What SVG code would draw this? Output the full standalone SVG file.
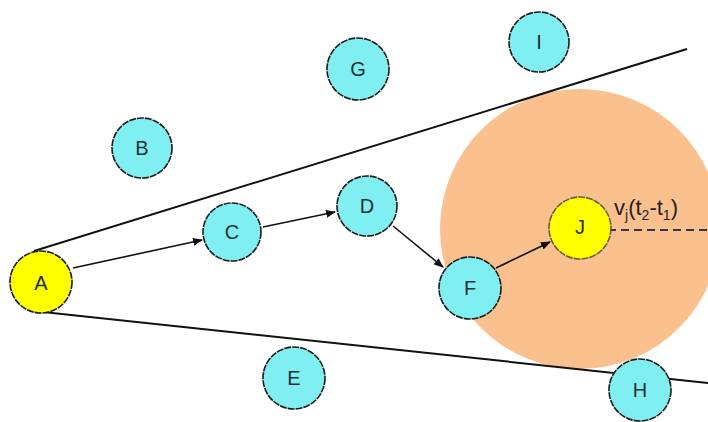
<svg xmlns="http://www.w3.org/2000/svg" width="708" height="422" viewBox="0 0 708 422">
<style>
.n{fill:#80EFF2;stroke:#1a1a1a;stroke-width:1.6;stroke-dasharray:7 1}
.y{fill:#FFFF00;stroke:#1a1a1a;stroke-width:1.6;stroke-dasharray:7 1}
.t{font-family:"Liberation Sans",Arial,sans-serif;font-size:20px;fill:#1f2f33;text-anchor:middle}
.l{stroke:#111;stroke-width:2;fill:none}
.a{stroke:#111;stroke-width:1.6;fill:none;marker-end:url(#ah)}
</style>
<defs>
<marker id="ah" markerWidth="10" markerHeight="8" refX="9" refY="4" orient="auto" markerUnits="userSpaceOnUse">
<path d="M0,0 L10,4 L0,8 Z" fill="#111"/>
</marker>
</defs>
<rect width="708" height="422" fill="#fff"/>
<circle id="range" cx="580" cy="229" r="140" fill="#FAC08D"/>
<g id="connectors">
<line class="l" x1="34" y1="251" x2="687" y2="49"/>
<line class="l" x1="43" y1="312" x2="708" y2="383"/>
<line class="a" x1="73" y1="268" x2="202" y2="240"/>
<line class="a" x1="263" y1="227" x2="335" y2="212"/>
<line class="a" x1="393" y1="226" x2="443" y2="267"/>
<line class="a" x1="496" y1="268" x2="550" y2="242"/>
<line x1="582" y1="230" x2="708" y2="230" stroke="#3a3050" stroke-width="2" stroke-dasharray="8 5"/>
</g>
<g id="A"><circle class="y" cx="41" cy="282" r="31"/><text class="t" x="41" y="290">A</text></g>
<g id="B"><circle class="n" cx="142" cy="148" r="30"/><text class="t" x="142" y="155">B</text></g>
<g id="C"><circle class="n" cx="232" cy="232" r="29"/><text class="t" x="232" y="239">C</text></g>
<g id="D"><circle class="n" cx="367" cy="206" r="30"/><text class="t" x="367" y="213">D</text></g>
<g id="E"><circle class="n" cx="294" cy="378" r="31"/><text class="t" x="294" y="385">E</text></g>
<g id="F"><circle class="n" cx="470" cy="288" r="31"/><text class="t" x="470" y="295">F</text></g>
<g id="G"><circle class="n" cx="358" cy="69" r="31"/><text class="t" x="358" y="76">G</text></g>
<g id="H"><circle class="n" cx="640" cy="390" r="31"/><text class="t" x="640" y="397">H</text></g>
<g id="I"><circle class="n" cx="539" cy="42" r="30"/><text class="t" x="539" y="49">I</text></g>
<g id="J"><circle class="y" cx="580" cy="228" r="31" style="stroke:#6b5a3a"/><text class="t" x="580" y="234">J</text></g>
<text x="614" y="215" font-family="'Liberation Sans',Arial,sans-serif" font-size="22" fill="#1f1f1f">v<tspan font-size="14" dy="5">j</tspan><tspan dy="-5">(t</tspan><tspan font-size="14" dy="5">2</tspan><tspan dy="-5">-t</tspan><tspan font-size="14" dy="5">1</tspan><tspan dy="-5">)</tspan></text>
</svg>
